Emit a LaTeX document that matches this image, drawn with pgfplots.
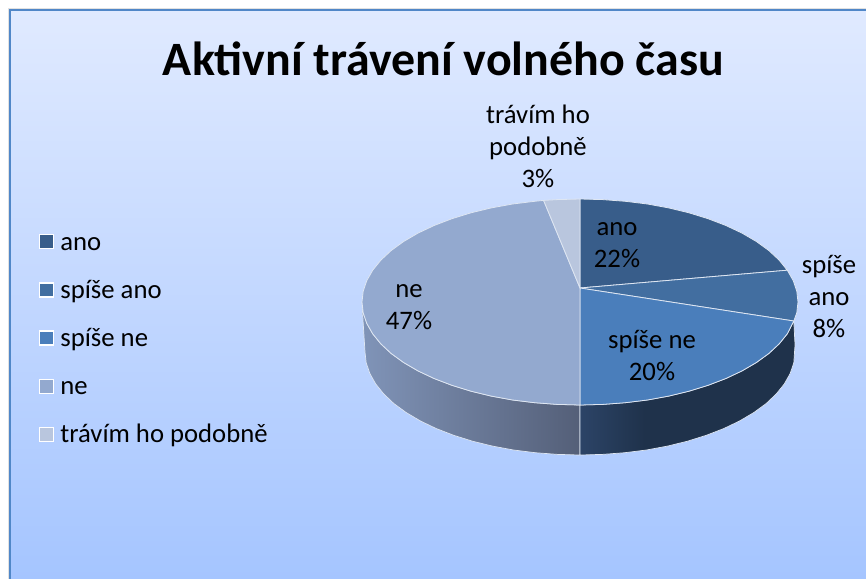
\documentclass[border=0pt]{standalone}
\usepackage{pgfplots}
\pgfplotsset{compat=1.18}
\usepackage{fontspec}
\setmainfont{Carlito}
\definecolor{cA}{RGB}{56,93,138}
\definecolor{cB}{RGB}{66,110,160}
\definecolor{cC}{RGB}{74,126,187}
\definecolor{cD}{RGB}{147,169,207}
\definecolor{cE}{RGB}{185,198,222}
\definecolor{bgT}{RGB}{224,234,255}
\definecolor{bgB}{RGB}{165,197,255}
\definecolor{frameC}{RGB}{80,135,200}
\definecolor{rim}{RGB}{222,230,242}
\definecolor{shadowC}{RGB}{225,225,225}
\definecolor{wallA}{RGB}{44,68,103}
\definecolor{wallB}{RGB}{31,50,75}
\pgfdeclarehorizontalshading{rightwall}{100bp}{color(0bp)=(wallA); color(25bp)=(wallA); color(40bp)=(wallB); color(100bp)=(wallB)}
\newcommand{\lab}{\fontsize{26.7bp}{32bp}\selectfont}
\newcommand{\st}{\rule[-6bp]{0pt}{24bp}\hspace*{6bp}}
\begin{document}
\begin{tikzpicture}
\begin{axis}[
  scale only axis, width=866bp, height=579bp,
  xmin=0, xmax=866, ymin=0, ymax=579, y dir=reverse,
  axis lines=none,
  legend style={at={(axis cs:39,232)}, anchor=north west, draw=none, fill=none,
    row sep=28.5bp, inner sep=0pt, outer sep=0pt,
    font=\fontsize{26.7bp}{26.7bp}\selectfont,
    nodes={inner sep=0pt, outer sep=0pt, anchor=west}},
  legend cell align=left,
  legend image code/.code={
    \path[#1, draw=white, line width=1.4bp] (6bp,-7bp) rectangle (20bp,7bp);
  },
]
\fill[white] (0,0) rectangle (866,579);
\fill[shadowC] (7.5,8) rectangle (866,10);
\fill[shadowC] (7.5,8) rectangle (9,579);
\fill[top color=bgT, bottom color=bgB] (10,10) rectangle (866,579);
\draw[frameC, line width=2bp] (10,579) -- (10,10) -- (866,10);

% side walls
\addplot[forget plot, draw=rim, line width=0.7bp, left color={rgb,255:red,128;green,148;blue,184}, right color={rgb,255:red,84;green,95;blue,120}] coordinates {
(580,405)(557.2,404.4)(534.7,402.7)(512.6,400)(491.3,396.1)(471,391.2)(451.9,385.3)(434.1,378.5)(418,370.9)(403.6,362.5)(391.2,353.5)(380.9,343.9)(372.7,333.8)(366.8,323.4)(363.2,312.8)(362,302)
(363,320)(365,352)(366.2,362.8)(369.8,373.4)(375.6,383.8)(383.7,393.9)(393.8,403.5)(406.1,412.5)(420.3,420.9)(436.1,428.5)(453.7,435.3)(472.5,441.2)(492.5,446.1)(513.5,450)(535.3,452.7)(557.5,454.4)(580,455)
} -- cycle;
\addplot[forget plot, draw=rim, line width=0.7bp, shade, shading=rightwall] coordinates {
(580,405)(602.8,404.4)(625.3,402.7)(647.4,400)(668.7,396.1)(689,391.2)(708.1,385.3)(725.9,378.5)(742,370.9)(756.4,362.5)(768.8,353.5)(779.1,343.9)(787.3,333.8)(793.8,321)
(795,345)(793.8,362.8)(790.2,373.4)(784.4,383.8)(776.3,393.9)(766.2,403.5)(753.9,412.5)(739.7,420.9)(723.9,428.5)(706.3,435.3)(687.5,441.2)(667.5,446.1)(646.5,450)(624.7,452.7)(602.5,454.4)(580,455)
} -- cycle;

% top wedges
\addplot[draw=rim, line width=0.8bp, fill=cA] coordinates {
(580,288)(580,199)(602.8,199.6)(625.3,201.3)(647.4,204)(668.7,207.9)(689,212.8)(708.1,218.7)(725.9,225.5)(742,233.1)(756.4,241.5)(768.8,250.5)(779.1,260.1)(787.3,270.2)
} -- cycle;
\addlegendentry{\st ano}
\addplot[draw=rim, line width=0.8bp, fill=cB] coordinates {
(580,288)(787.3,270.2)(793.2,280.6)(796.8,291.2)(798,302)(796.8,312.8)(793.8,321)
} -- cycle;
\addlegendentry{\st spíše ano}
\addplot[draw=rim, line width=0.8bp, fill=cC] coordinates {
(580,288)(793.8,321)(787.3,333.8)(779.1,343.9)(768.8,353.5)(756.4,362.5)(742,370.9)(725.9,378.5)(708.1,385.3)(689,391.2)(668.7,396.1)(647.4,400)(625.3,402.7)(602.8,404.4)(580,405)
} -- cycle;
\addlegendentry{\st spíše ne}
\addplot[draw=rim, line width=0.8bp, fill=cD] coordinates {
(580,288)(580,405)(557.2,404.4)(534.7,402.7)(512.6,400)(491.3,396.1)(471,391.2)(451.9,385.3)(434.1,378.5)(418,370.9)(403.6,362.5)(391.2,353.5)(380.9,343.9)(372.7,333.8)(366.8,323.4)(363.2,312.8)(362,302)(363.2,291.2)(366.8,280.6)(372.7,270.2)(380.9,260.1)(391.2,250.5)(403.6,241.5)(418,233.1)(434.1,225.5)(451.9,218.7)(471,212.8)(491.3,207.9)(512.6,204)(534.7,201.3)(543.6,200.4)
} -- cycle;
\addlegendentry{\st ne}
\addplot[draw=rim, line width=0.8bp, fill=cE] coordinates {
(580,288)(543.6,200.4)(557.2,199.6)(580,199)
} -- cycle;
\addlegendentry{\st trávím ho podobně}

\node[font=\fontsize{47.9bp}{47.9bp}\selectfont\bfseries, anchor=center] at (443.5,59) {Aktivní trávení volného času};
\node[align=center, font=\lab] at (538,146) {trávím ho\\podobně\\3\%};
\node[align=center, font=\lab] at (617,245) {ano\\22\%};
\node[align=center, font=\lab] at (829,296) {spíše\\ano\\8\%};
\node[align=center, font=\lab] at (652,355.5) {spíše ne\\20\%};
\node[align=center, font=\lab] at (409,307) {ne\\47\%};
\end{axis}
\end{tikzpicture}
\end{document}
